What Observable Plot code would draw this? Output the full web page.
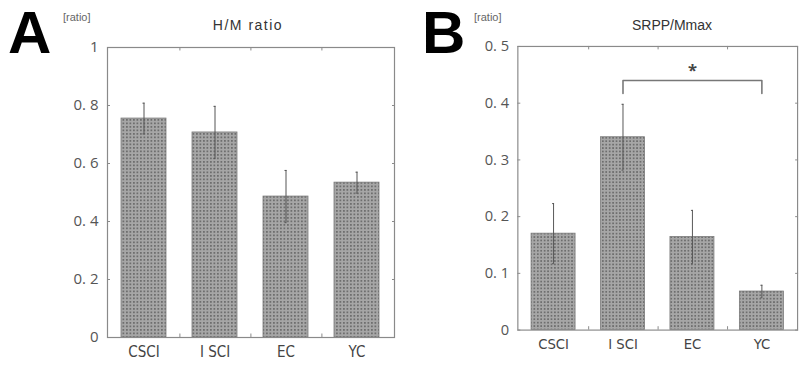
<!DOCTYPE html>
<html>
<head>
<meta charset="utf-8">
<script src="https://cdn.jsdelivr.net/npm/d3@7"></script>
<script src="https://cdn.jsdelivr.net/npm/@observablehq/plot@0.6"></script>
<style>
  html, body { margin: 0; padding: 0; background: #fff; }
  #wrap { position: relative; width: 801px; height: 365px; overflow: hidden; font-family: "Liberation Sans", Arial, sans-serif; }
  .panel { position: absolute; top: 0; }
  .letter { position: absolute; font: bold 60px "Liberation Sans", Arial, sans-serif; color: #000; line-height: 66px; }
  .unit { position: absolute; font-size: 11px; color: #666; }
  .title { position: absolute; font-size: 14px; color: #333; transform: translateX(-50%); white-space: nowrap; }
</style>
</head>
<body>
<svg width="0" height="0" style="position:absolute">
  <defs>
    <pattern id="dots" width="3.5" height="3.5" patternUnits="userSpaceOnUse">
      <rect width="3.5" height="3.5" fill="#a6a6a6"></rect>
      <rect width="1.75" height="1.75" fill="#6e6e6e"></rect>
    </pattern>
  </defs>
</svg>
<div id="wrap">
  <div class="letter" style="left:8px;top:0px">A</div>
  <div class="letter" style="left:422px;top:0px">B</div>
  <div class="unit" style="left:63px;top:11px">[ratio]</div>
  <div class="unit" style="left:474px;top:11px">[ratio]</div>
  <div class="title" style="left:248px;top:17px;letter-spacing:1.5px">H/M ratio</div>
  <div class="title" style="left:672px;top:17px">SRPP/Mmax</div>
  <div class="panel" id="pa" style="left:0px"></div>
  <div class="panel" id="pb" style="left:400px"></div>
</div>
<script>
const categories = ["CSCI", "I SCI", "EC", "YC"];
const hmRatio = [0.755, 0.707, 0.486, 0.534];
const hmErr = [0.053, 0.09, 0.09, 0.036];
const srppRatio = [0.170, 0.340, 0.164, 0.068];
const srppErr = [0.053, 0.058, 0.047, 0.011];
const yTicksA = [0, 0.2, 0.4, 0.6, 0.8, 1];
const yTicksB = [0, 0.1, 0.2, 0.3, 0.4, 0.5];
const bracketY = 0.44;
const bracketLegY = 0.417;
const starY = 0.458;

const fmt = d => d === 0 ? "0" : d === 1 ? "1" : d.toFixed(1).replace(".", ". ");
const blank = () => "";

function panel(values, errs, yTicks, yMax, opts) {
  const data = categories.map((c, i) => ({cat: c, v: values[i], lo: values[i] - errs[i], hi: values[i] + errs[i]}));
  const marks = [
    Plot.barY(data, {x: "cat", y: "v", fill: "url(#dots)", stroke: "#7a7a7a", strokeWidth: 0.8}),
    Plot.ruleX(data, {x: "cat", y1: "lo", y2: "hi", stroke: "#555", strokeWidth: 1}),
    Plot.tickY(data, {x: "cat", y: "hi", stroke: "#555", insetLeft: 21.5, insetRight: 21.5}),
    Plot.tickY(data, {x: "cat", y: "lo", stroke: "#555", insetLeft: 21.5, insetRight: 21.5}),
    Plot.frame({stroke: "#8a8a8a", strokeWidth: 1.2}),
    Plot.axisY(yTicks, {anchor: "left", tickSize: -3, tickFormat: blank, label: null, stroke: "#8a8a8a"}),
    Plot.axisY(yTicks, {anchor: "right", tickSize: -3, tickFormat: blank, label: null, stroke: "#8a8a8a"}),
    Plot.axisY(yTicks, {anchor: "left", tickSize: 0, tickPadding: 9, tickFormat: fmt, label: null, fontSize: 15, fill: "#555", fontFamily: "Open Sans, sans-serif"}),
    Plot.axisX({tickSize: 0, tickPadding: 9, label: null, fontSize: 15, fill: "#444", fontFamily: "DejaVu Sans Condensed, Liberation Sans Narrow, sans-serif"}),
    Plot.ruleX(categories.slice(0, 3), {x: d => d, y1: yMax, y2: yMax * 0.988, dx: 35.9, stroke: "#8a8a8a"}),
    Plot.ruleX(categories.slice(0, 3), {x: d => d, y1: 0, y2: yMax * 0.012, dx: 35.9, stroke: "#8a8a8a"})
  ];
  if (opts.bracket) {
    marks.push(
      Plot.line([{x: "I SCI", y: bracketLegY}, {x: "I SCI", y: bracketY}, {x: "YC", y: bracketY}, {x: "YC", y: bracketLegY}],
        {x: "x", y: "y", stroke: "#777", strokeWidth: 1.6}),
      Plot.text(["*"], {x: () => "EC", y: () => starY, text: d => d, fontSize: 17, fill: "#444", fontWeight: "bold"})
    );
  }
  return Plot.plot({
    width: opts.width, height: 365,
    marginLeft: opts.ml, marginRight: opts.mr, marginTop: 47, marginBottom: 28,
    x: {domain: categories, paddingInner: 0.36, paddingOuter: 0.18, axis: null, label: null},
    y: {domain: [0, yMax], axis: null, label: null},
    style: {background: "transparent", overflow: "visible"},
    marks
  });
}

document.getElementById("pa").appendChild(panel(hmRatio, hmErr, yTicksA, 1, {width: 400, ml: 107, mr: 6}));
document.getElementById("pb").appendChild(panel(srppRatio, srppErr, yTicksB, 0.5, {width: 410, ml: 120, mr: 4, bracket: true}));
</script>
</body>
</html>
